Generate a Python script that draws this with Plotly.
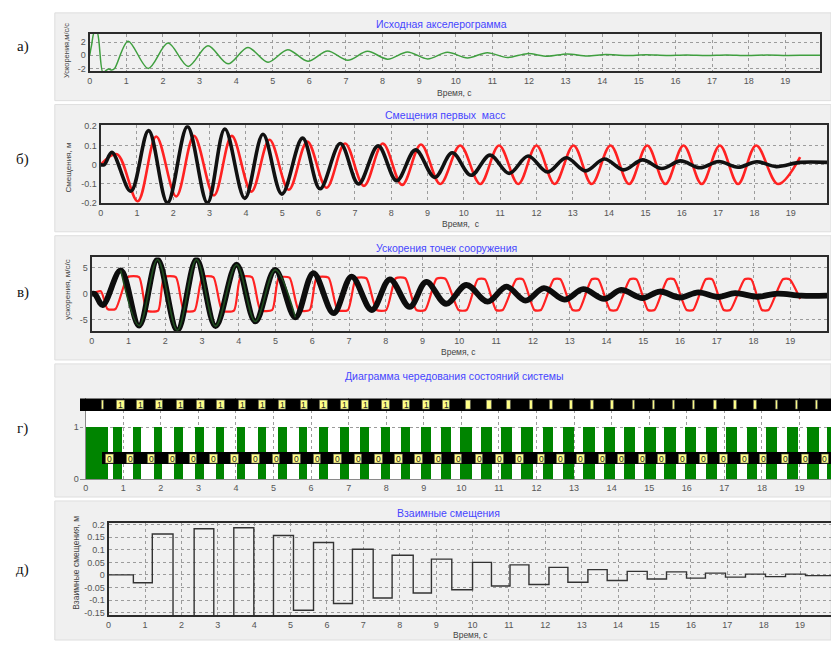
import plotly.graph_objects as go

W, H = 831, 645

# ---------------- а) ground accelerogram (peaks / troughs, m/s^2) ----------------
acc_t = [0.0, 0.05, 0.13, 0.2, 0.36, 0.45, 0.52, 0.6, 0.68, 1.05, 1.6, 2.14, 2.69, 3.23, 3.78,
         4.32, 4.87, 5.41, 5.96, 6.5, 7.05, 7.59, 8.14, 8.68, 9.23, 9.77, 10.32, 10.86, 11.41,
         11.95, 12.5, 13.04, 13.59, 14.1, 14.65, 15.2, 15.75, 16.3, 16.85, 17.4, 17.95, 18.5,
         19.05, 19.6, 19.95]
acc_v = [0.0, 1.5, 3.6, 3.6, -2.6, -2.3, -2.1, -2.25, -2.0, 2.15, -2.0, 1.85, -1.7, 1.45, -1.3,
         1.2, -1.05, 0.85, -0.9, 0.65, -0.75, 0.6, -0.6, 0.5, -0.55, 0.45, -0.4, 0.4, -0.35,
         0.25, -0.15, 0.2, -0.12, 0.1, -0.05, 0.08, -0.03, 0.05, -0.02, 0.05, -0.04, 0.03,
         -0.03, 0.0, 0.0]

# ---------------- б) first-mass displacements, m ----------------
disp_blk_t = [0.0, 0.1, 0.31, 0.83, 1.32, 1.84, 2.39, 2.94, 3.42, 3.97, 4.47, 4.99, 5.56, 6.04,
              6.6, 7.1, 7.64, 8.15, 8.67, 9.2, 9.68, 10.2, 10.72, 11.25, 11.77, 12.3, 12.82,
              13.35, 13.87, 14.4, 14.92, 15.45, 15.97, 16.5, 17.02, 17.55, 18.07, 18.6, 19.25, 20.0]
disp_blk_v = [0.0, 0.0, 0.064, -0.138, 0.177, -0.198, 0.198, -0.198, 0.186, -0.175, 0.158,
              -0.153, 0.138, -0.125, 0.11, -0.1, 0.098, -0.083, 0.077, -0.066, 0.062, -0.055,
              0.05, -0.045, 0.045, -0.038, 0.036, -0.032, 0.03, -0.027, 0.025, -0.02, 0.02,
              -0.016, 0.017, -0.013, 0.015, -0.01, 0.012, 0.012]
disp_red_t = [0.0, 0.45, 1.02, 1.53, 2.08, 2.57, 3.12, 3.61, 4.15, 4.65, 5.18, 5.69, 6.22, 6.73,
              7.25, 7.77, 8.3, 8.82, 9.35, 9.9, 10.45, 10.97, 11.5, 12.0, 12.5, 13.02, 13.52,
              14.04, 14.55, 15.05, 15.55, 16.05, 16.55, 17.05, 17.55, 18.05, 18.65, 19.26]
disp_red_v = [0.0, 0.055, -0.19, 0.147, -0.165, 0.15, -0.16, 0.15, -0.14, 0.13, -0.13, 0.12,
              -0.12, 0.11, -0.11, 0.11, -0.105, 0.105, -0.1, 0.1, -0.1, 0.1, -0.1, 0.1, -0.1,
              0.1, -0.1, 0.1, -0.1, 0.1, -0.1, 0.1, -0.1, 0.1, -0.1, 0.1, -0.1, 0.04]

# ---------------- в) structure point accelerations, m/s^2 ----------------
acc_blk_t = [0.0, 0.08, 0.3, 0.79, 1.29, 1.79, 2.33, 2.85, 3.37, 3.94, 4.45, 4.99, 5.54, 6.03,
             6.58, 7.07, 7.62, 8.11, 8.65, 9.1, 9.64, 10.19, 10.77, 11.28, 11.8, 12.3, 12.86,
             13.37, 13.94, 14.4, 14.98, 15.45, 16.0, 16.5, 17.05, 17.5, 18.1, 18.65, 19.3, 20.0]
acc_blk_v = [0.0, 0.0, -2.15, 4.5, -6.1, 6.6, -7.0, 6.6, -6.2, 5.6, -5.3, 4.6, -4.5, 4.0, -3.7,
             3.3, -3.1, 2.8, -2.5, 2.3, -1.9, 1.7, -1.5, 1.4, -1.3, 1.1, -1.1, 0.9, -0.95, 0.75,
             -0.8, 0.45, -0.7, 0.3, -0.6, 0.15, -0.55, 0.05, -0.35, -0.35]
acc_red = [(0.0, 0.0), (0.25, 0.5), (0.43, -2.9), (0.65, -2.9), (0.98, 3.2), (1.29, 3.2),
           (1.5, -3.2), (1.81, -3.2), (1.97, 3.2), (2.29, 3.2), (2.51, -3.2), (2.8, -3.2),
           (3.01, 3.2), (3.31, 3.2), (3.55, -3.2), (3.87, -3.2), (4.05, 3.2), (4.36, 3.2),
           (4.59, -3.1), (4.91, -3.1), (5.09, 3.1), (5.38, 3.1), (5.63, -3.1), (5.93, -3.1),
           (6.12, 3.1), (6.44, 3.1), (6.69, -3.1), (6.97, -3.1), (7.19, 3.0), (7.47, 3.0),
           (7.75, -3.1), (8.01, -3.1), (8.27, 3.0), (8.53, 3.0), (8.83, -3.1), (9.07, -3.1),
           (9.38, 2.9), (9.62, 2.9), (9.98, -3.1), (10.2, -3.1), (10.5, 2.8), (10.7, 2.8),
           (11.0, -3.1), (11.18, -3.1), (11.55, 2.8), (11.73, 2.8), (12.04, -3.1), (12.22, -3.1),
           (12.57, 2.8), (12.75, 2.8), (13.08, -3.1), (13.26, -3.1), (13.6, 2.8), (13.78, 2.8),
           (14.1, -3.1), (14.28, -3.1), (14.64, 2.8), (14.82, 2.8), (15.13, -3.1), (15.31, -3.1),
           (15.66, 2.8), (15.84, 2.8), (16.18, -3.1), (16.36, -3.1), (16.7, 2.8), (16.88, 2.8),
           (17.19, -3.1), (17.37, -3.1), (17.76, 2.8), (17.94, 2.8), (18.23, -3.1), (18.41, -3.1),
           (18.8, 2.8), (18.98, 2.8), (19.27, -1.0)]

# ---------------- г) state alternation diagram ----------------
state_on = [0.0, 0.72, 1.24, 1.8, 2.35, 2.91, 3.46, 4.02, 4.57, 5.12, 5.66, 6.21, 6.76, 7.3,
            7.85, 8.38, 8.92, 9.44, 9.96, 10.51, 11.06, 11.59, 12.17, 12.7, 13.23, 13.8, 14.31,
            14.86, 15.39, 15.94, 16.5, 17.03, 17.59, 18.09, 18.67, 19.2, 19.73]
state_off = [0.58, 0.96, 1.47, 2.02, 2.58, 3.13, 3.68, 4.24, 4.79, 5.34, 5.88, 6.43, 6.99, 7.53,
             8.09, 8.63, 9.18, 9.71, 10.27, 10.8, 11.33, 11.9, 12.43, 13.0, 13.54, 14.07, 14.61,
             15.17, 15.7, 16.23, 16.79, 17.34, 17.87, 18.4, 18.95, 19.5, 20.0]
one_t = [0.45, 0.93, 1.45, 1.96, 2.52, 3.06, 3.6, 4.16, 4.7, 5.23, 5.81, 6.34, 6.9, 7.44, 7.99,
         8.53, 9.07, 9.6, 10.18, 10.74, 11.27, 11.86, 12.39, 12.92, 13.49, 14.02, 14.59, 15.12,
         15.65, 16.18, 16.76, 17.29, 17.82, 18.4, 18.93, 19.46]
one_w = [0.04, 0.2, 0.2, 0.2, 0.2, 0.2, 0.2, 0.2, 0.2, 0.2, 0.2, 0.2, 0.2, 0.2, 0.2, 0.2, 0.2,
         0.2, 0.13, 0.12, 0.1, 0.1, 0.09, 0.08, 0.08, 0.08, 0.07, 0.06, 0.06, 0.06, 0.06, 0.06,
         0.06, 0.06, 0.06, 0.06]
zero_t = [0.64, 1.18, 1.74, 2.3, 2.86, 3.41, 3.97, 4.52, 5.07, 5.61, 6.16, 6.71, 7.25, 7.8,
          8.33, 8.87, 9.39, 9.92, 10.47, 11.02, 11.55, 12.12, 12.65, 13.18, 13.75, 14.26, 14.81,
          15.34, 15.89, 16.45, 16.98, 17.54, 18.04, 18.62, 19.15, 19.68]
zero_w = 0.2

# ---------------- д) relative displacements (stepwise), m ----------------
rel_t = [0.0, 0.68, 1.2, 1.77, 2.35, 2.89, 3.44, 3.99, 4.53, 5.08, 5.63, 6.18, 6.7, 7.27, 7.79,
         8.37, 8.87, 9.43, 10.0, 10.52, 11.03, 11.55, 12.1, 12.62, 13.17, 13.7, 14.25, 14.8,
         15.33, 15.88, 16.4, 16.95, 17.5, 18.05, 18.6, 19.15, 19.85]
rel_v = [0.0, -0.031, 0.163, -0.2, 0.184, -0.2, 0.188, -0.2, 0.157, -0.141, 0.129, -0.114,
         0.102, -0.092, 0.078, -0.072, 0.063, -0.059, 0.05, -0.044, 0.04, -0.038, 0.03, -0.029,
         0.021, -0.022, 0.014, -0.016, 0.012, -0.013, 0.007, -0.009, 0.003, -0.007, 0.003,
         -0.003, -0.003]

# ---------------- layout helpers (pixel -> paper) ----------------
def fx(px):
    return px / W


def fy(py):
    return 1 - py / H


SANS = "Liberation Sans, Arial, sans-serif"
TICKFONT = dict(family=SANS, size=9, color="#555555")
GRID = dict(showgrid=True, gridcolor="#9c9c9c", griddash="dot", gridwidth=1)
BLUE = "#4646ff"
RED = "#ff2222"

# plot rectangles in pixels: (left, right, top, bottom)
boxes = {
    "": (87, 820, 30, 68),
    "2": (98, 827, 123, 202),
    "3": (89, 827, 257, 332),
    "4": (77, 831, 400, 482),
    "5": (106, 831, 526, 620),
}

fig = go.Figure()


def line(t, v, ax, color, width, shape="spline", smoothing=1.0):
    fig.add_trace(go.Scatter(
        x=t, y=v, xaxis="x" + ax, yaxis="y" + ax, mode="lines",
        line=dict(color=color, width=width, shape=shape, smoothing=smoothing),
        hoverinfo="skip", showlegend=False))


# а)
line(acc_t, acc_v, "", "#3f9f3f", 1.5, smoothing=0.9)
# б)
line(disp_red_t, disp_red_v, "2", RED, 2.6)
line(disp_blk_t, disp_blk_v, "2", "#111111", 3.6)
# в)
line([p[0] for p in acc_red], [p[1] for p in acc_red], "3", RED, 2.2, smoothing=0.6)
line(acc_blk_t, acc_blk_v, "3", "#0d0d0d", 5.8)
core = [(t, v) for t, v in zip(acc_blk_t, acc_blk_v) if 0.79 <= t <= 5.54]
line([c[0] for c in core], [c[1] for c in core], "3", "#1f4d1f", 1.6)
# д)
line(rel_t, rel_v, "5", "#333333", 1.4, shape="hv")


# г) state bars
def bars(x, w, base, h, color, lw=0, lc="#555555"):
    fig.add_trace(go.Bar(
        x=x, y=[h] * len(x), base=[base] * len(x), width=w, xaxis="x4", yaxis="y4",
        marker=dict(color=color, line=dict(width=lw, color=lc)),
        hoverinfo="skip", showlegend=False))


bars([(a + b) / 2 for a, b in zip(state_on, state_off)],
     [b - a for a, b in zip(state_on, state_off)], 0, 1, "#008400")
bars([9.84], [20.0], 1.3, 0.247, "#000000")
bars(one_t, one_w, 1.33, 0.185, "#ffff88", 0.6)
bars([10.135], [19.41], 0.28, 0.23, "#000000")
bars(zero_t, [zero_w] * len(zero_t), 0.305, 0.18, "#ffff88", 0.6)

annotations = []
for t, w in zip(one_t, one_w):
    if w >= 0.15:
        annotations.append(dict(x=t, y=1.425, xref="x4", yref="y4", text="1", showarrow=False,
                                xanchor="center", yanchor="middle",
                                font=dict(family=SANS, size=8.5, color="#222222")))
for t in zero_t:
    annotations.append(dict(x=t, y=0.395, xref="x4", yref="y4", text="0", showarrow=False,
                            xanchor="center", yanchor="middle",
                            font=dict(family=SANS, size=8.5, color="#222222")))

# panel backgrounds
panels = [(9, 98), (102, 231), (235, 361), (365, 500), (504, 645)]
shapes = []
for top, bot in panels:
    shapes.append(dict(type="rect", xref="paper", yref="paper", x0=fx(52), x1=1.0,
                       y0=fy(bot), y1=fy(top), fillcolor="#f0f0f0",
                       line=dict(color="#dedede", width=1), layer="below"))
shapes.append(dict(type="rect", xref="x4", yref="y4 domain", x0=0, x1=20, y0=0, y1=1,
                   fillcolor="#ffffff", line=dict(width=0), layer="below"))


def label(s, x, y, size, color, family=SANS, angle=0):
    annotations.append(dict(x=fx(x), y=fy(y), xref="paper", yref="paper", text=s,
                            textangle=angle, showarrow=False, xanchor="center",
                            yanchor="middle", font=dict(family=family, size=size, color=color)))


# panel letters
for s, y in [("а)", 43), ("б)", 158), ("в)", 293), ("г)", 431), ("д)", 573)]:
    label(s, 20, y, 15, "#111111", family="Liberation Serif, serif")
# titles
for s, x, y in [("Исходная акселерограмма", 440, 20), ("Смещения первых  масс", 444, 113),
                ("Ускорения точек сооружения", 445, 247),
                ("Диаграмма чередования состояний системы", 453, 377),
                ("Взаимные смещения", 447, 516)]:
    label(s, x, y, 10.5, BLUE)
# x-axis titles
for s, x, y in [("Время, с", 453, 90), ("Время,  с", 460, 223), ("Время, с", 457, 353),
                ("Время, с", 469, 640)]:
    label(s, x, y, 8.5, "#444444")
# y-axis titles
for s, x, y, sz in [("Ускорения,м/с/с", 64, 47, 7.5), ("Смещения, м", 66, 166, 8),
                    ("ускорения, м/с/с", 65, 290, 8), ("Взаимные смещения, м", 73, 567, 8.5)]:
    label(s, x, y, sz, "#444444", angle=-90)

layout = dict(width=W, height=H, margin=dict(l=0, r=0, t=0, b=0), paper_bgcolor="#ffffff",
              plot_bgcolor="rgba(0,0,0,0)", showlegend=False, barmode="overlay", bargap=0,
              shapes=shapes, annotations=annotations)

xranges = {"": [0, 19.95], "2": [0, 20], "3": [0, 20], "4": [-0.16, 19.84], "5": [0, 19.85]}
xticks = {"": list(range(20)), "2": list(range(21)), "3": list(range(21)),
          "4": list(range(20)), "5": list(range(20))}
yranges = {"": [-2.4, 3.3], "2": [-0.2, 0.205], "3": [-7.2, 7.0], "4": [0, 1.55],
           "5": [-0.161, 0.208]}
yticks = {"": ([-2, 0, 2], ["-2", "0", "2"]),
          "2": ([-0.2, -0.1, 0, 0.1, 0.2], ["-0.2", "-0.1", "0", "0.1", "0.2"]),
          "3": ([-5, 0, 5], ["-5", "0", "5"]),
          "4": ([0, 1], ["0", "1"]),
          "5": ([-0.15, -0.1, -0.05, 0, 0.05, 0.1, 0.15, 0.2],
                ["-0.15", "-0.1", "-0.05", "0", "0.05", "0.1", "0.15", "0.2"])}

for ax, (l, r, t, b) in boxes.items():
    framed = ax != "4"
    xa = dict(domain=[fx(l), fx(r)], range=xranges[ax], tickvals=xticks[ax], anchor="y" + ax,
              ticks="", tickfont=TICKFONT, zeroline=False, fixedrange=True, **GRID)
    ya = dict(domain=[fy(b), fy(t)], range=yranges[ax], tickvals=yticks[ax][0],
              ticktext=yticks[ax][1], anchor="x" + ax, ticks="", tickfont=TICKFONT,
              zeroline=False, fixedrange=True, **GRID)
    if framed:
        xa.update(showline=True, mirror=True, linecolor="#2b2b2b", linewidth=2)
        ya.update(showline=True, mirror=(ax != "5"), linecolor="#2b2b2b", linewidth=2)
    else:
        xa.update(showline=True, linecolor="#8a8a8a", linewidth=1, zeroline=True,
                  zerolinecolor="#8a8a8a", zerolinewidth=1)
        ya.update(showline=False)
    layout["xaxis" + ax] = xa
    layout["yaxis" + ax] = ya

fig.update_layout(**layout)
fig.write_html("out.html")
